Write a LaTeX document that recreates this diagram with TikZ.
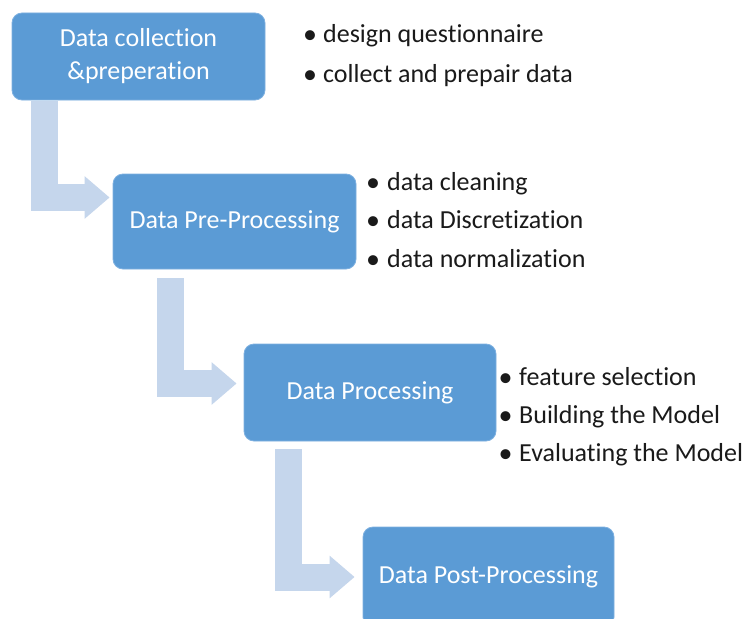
\documentclass[tikz,border=0pt]{standalone}
\usepackage{fontspec}
\setmainfont{Carlito}[Ligatures=NoCommon]
\usetikzlibrary{arrows.meta}
\definecolor{boxblue}{HTML}{5B9BD5}
\definecolor{boxedge}{HTML}{7DB0E0}
\definecolor{arrowblue}{HTML}{C5D6EC}
\definecolor{ink}{HTML}{1A1A1A}
\begin{document}
\begin{tikzpicture}[x=1pt,y=-1pt,
  stage/.style={fill=boxblue, draw=boxedge, line width=0.8pt, rounded corners=10pt,
    text=white, font=\fontsize{26}{33}\selectfont, align=center, inner sep=0pt},
  flow/.style={draw=arrowblue, line width=27pt, line join=miter,
    -{Triangle[length=25pt,width=41pt]}},
  bul/.style={anchor=base, font=\fontsize{28}{31}\selectfont, text=ink, inner sep=0pt},
  itm/.style={anchor=base west, font=\fontsize{26}{31}\selectfont, text=ink, inner sep=0pt}]
\clip (0,0) rectangle (743,618);
\fill[white] (0,0) rectangle (743,618);

% stages
\node[stage, minimum width=253pt, minimum height=87pt] (b1) at (138.5,56.5) {Data collection\\\&preperation};
\node[stage, minimum width=243pt, minimum height=95pt] (b2) at (234.5,221.5) {Data Pre-Processing};
\node[stage, minimum width=252pt, minimum height=97pt] (b3) at (370,392.5) {Data Processing};
\node[stage, minimum width=251pt, minimum height=100pt] (b4) at (488.5,577) {Data Post-Processing};

% bent arrows
\coordinate (s1) at (44.5,101);
\coordinate (s2) at (170.5,278);
\coordinate (s3) at (288,449);
\draw[flow, shorten >=3pt] (s1) |- ([yshift=24pt]b2.west);
\draw[flow, shorten >=7pt] (s2) |- ([yshift=9pt]b3.west);
\draw[flow, shorten >=8pt] (s3) |- (b4.west);

% bullet list 1
\node[bul] (d1a) at (310,44) {•};
\node[itm] (t1a) at (323,43) {design questionnaire};
\node[bul] (d1b) at (310,83) {•};
\node[itm] (t1b) at (323,82) {collect and prepair data};

% bullet list 2
\node[bul] (d2a) at (373,191) {•};
\node[itm] (t2a) at (387,190) {data cleaning};
\node[bul] (d2b) at (373,229) {•};
\node[itm] (t2b) at (387,228) {data Discretization};
\node[bul] (d2c) at (373,268) {•};
\node[itm] (t2c) at (387,267) {data normalization};

% bullet list 3
\node[bul] (d3a) at (505.5,386) {•};
\node[itm] (t3a) at (519,385) {feature selection};
\node[bul] (d3b) at (505.5,424) {•};
\node[itm] (t3b) at (519,423) {Building the Model};
\node[bul] (d3c) at (505.5,462) {•};
\node[itm] (t3c) at (519,461) {Evaluating the Model};
\end{tikzpicture}
\end{document}
